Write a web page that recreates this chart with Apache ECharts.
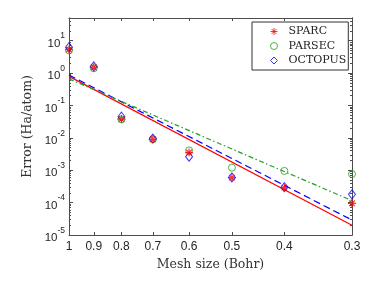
<!DOCTYPE html>
<html><head><meta charset="utf-8">
<script src="https://cdn.jsdelivr.net/npm/echarts@6/dist/echarts.min.js"></script>
<style>html,body{margin:0;padding:0;background:#fff}#c{width:382px;height:287px}</style>
</head><body><div id="c"></div>
<script>
// ---- data ----
const meshSizes = [1, 0.9, 0.8, 0.7, 0.6, 0.5, 0.4, 0.3];
const sparc   = [5.3, 1.5, 0.038, 0.0090, 0.0035, 0.00059, 0.00029, 0.000095];
const parsec  = [5.0, 1.4, 0.037, 0.0090, 0.0041, 0.0012, 0.00095, 0.00076];
const octopus = [6.3, 1.6, 0.045, 0.0095, 0.0026, 0.00060, 0.00030, 0.00018];
// fitted lines: values at the mesh-size ends
const fitX = [1, 0.3];
const fitSparc = [0.79, 2.0e-5];
const fitOctopus = [0.87, 2.9e-5];
const fitParsec = [0.66, 1.15e-4];
const xTicks = [1, 0.9, 0.8, 0.7, 0.6, 0.5, 0.4, 0.3];
const yTicks = [1e-5, 1e-4, 1e-3, 1e-2, 1e-1, 1, 10];
const yMin = 1e-5, yMax = 50;
const yMinor = [];
for (let e = -5; e <= 1; e++) for (let k = 2; k <= 9; k++) { const v = k * Math.pow(10, e); if (v <= yMax) yMinor.push(v); }

const pair = (xs, ys) => xs.map((x, i) => [x, ys[i]]);
const axisColor = '#4d4d4d';
const serif = 'DejaVu Serif';
const sans = 'Liberation Sans';
const red = '#ff0000', green = '#22a022', blue = '#0000ff';

const asterisk = 'path://M0,-10L0,10M-10,0L10,0M-7,-7L7,7M-7,7L7,-7';

function xAx(pos, labels, custom, len) {
  return {
    type: 'log', inverse: true, min: 0.3, max: 1, position: pos, gridIndex: 0,
    name: labels ? 'Mesh size (Bohr)' : '', nameLocation: 'middle', nameGap: 17,
    nameTextStyle: {fontFamily: serif, fontSize: 12.5, color: '#333'},
    axisLine: {show: true, lineStyle: {color: axisColor, width: 1}},
    axisTick: {show: true, inside: true, length: len, customValues: custom, lineStyle: {color: axisColor}},
    axisLabel: {show: labels, customValues: xTicks, formatter: v => String(v), fontFamily: sans, fontSize: 12, color: '#262626', margin: 6},
    splitLine: {show: false}, minorTick: {show: false}
  };
}
function yAx(pos, labels, custom, len) {
  return {
    type: 'log', logBase: 10, min: yMin, max: yMax, position: pos, gridIndex: 0,
    name: labels ? 'Error (Ha/atom)' : '', nameLocation: 'middle', nameGap: 34,
    nameTextStyle: {fontFamily: serif, fontSize: 12.5, color: '#333'},
    axisLine: {show: true, lineStyle: {color: axisColor, width: 1}},
    axisTick: {show: true, inside: true, length: len, customValues: custom, lineStyle: {color: axisColor}},
    axisLabel: {show: labels, customValues: yTicks, margin: 4,
      formatter: v => '{b|10}{s|' + Math.round(Math.log10(v)) + '}',
      rich: {
        b: {fontFamily: sans, fontSize: 11.5, color: '#262626', lineHeight: 18, verticalAlign: 'bottom'},
        s: {fontFamily: sans, fontSize: 8.5, color: '#262626', lineHeight: 9, verticalAlign: 'top'}
      }},
    splitLine: {show: false}, minorTick: {show: false}
  };
}

const chart = echarts.init(document.getElementById('c'), null, {renderer: 'canvas'});
chart.setOption({
  animation: false,
  backgroundColor: '#fff',
  grid: {left: 69, right: 30, top: 18, bottom: 52, containLabel: false, outerBoundsMode: 'none'},
  xAxis: [xAx('bottom', true, xTicks, 3), xAx('top', false, xTicks, 3)],
  yAxis: [yAx('left', true, yTicks, 4), yAx('left', false, yMinor, 2), yAx('right', false, yTicks, 4), yAx('right', false, yMinor, 2)],
  legend: {
    orient: 'vertical', left: 252, top: 22,
    data: [
      {name: 'SPARC', icon: asterisk, itemStyle: {color: 'none', borderColor: red, borderWidth: 1}},
      {name: 'PARSEC', icon: 'circle', itemStyle: {color: 'none', borderColor: green, borderWidth: 1}},
      {name: 'OCTOPUS', icon: 'diamond', itemStyle: {color: 'none', borderColor: blue, borderWidth: 1}}
    ],
    backgroundColor: '#fff', borderColor: '#333', borderWidth: 1,
    padding: [3, 2, 3, 16], itemGap: 1.5, itemWidth: 7, itemHeight: 7,
    textStyle: {fontFamily: serif, fontSize: 11, color: '#262626', lineHeight: 13, padding: [0, 0, 0, 6]}
  },
  series: [
    {type: 'line', name: 'fitS', data: pair(fitX, fitSparc), symbol: 'none', lineStyle: {color: red, width: 1.2}, z: 1},
    {type: 'line', name: 'fitO', data: pair(fitX, fitOctopus), symbol: 'none', lineStyle: {color: blue, width: 1.2, type: [7, 4]}, z: 1},
    {type: 'line', name: 'fitP', data: pair(fitX, fitParsec), symbol: 'none', lineStyle: {color: green, width: 1.2, type: [5, 2.5, 1.5, 2.5]}, z: 1},
    {type: 'scatter', name: 'PARSEC', data: pair(meshSizes, parsec), symbol: 'circle', symbolSize: 7,
      itemStyle: {color: 'none', borderColor: green, borderWidth: 1}, z: 3},
    {type: 'scatter', name: 'OCTOPUS', data: pair(meshSizes, octopus), symbol: 'diamond', symbolSize: [7, 9],
      itemStyle: {color: 'none', borderColor: blue, borderWidth: 1}, z: 4},
    {type: 'scatter', name: 'SPARC', data: pair(meshSizes, sparc), symbol: asterisk, symbolSize: 8,
      itemStyle: {color: 'none', borderColor: red, borderWidth: 1.2}, z: 5}
  ]
});
</script></body></html>
